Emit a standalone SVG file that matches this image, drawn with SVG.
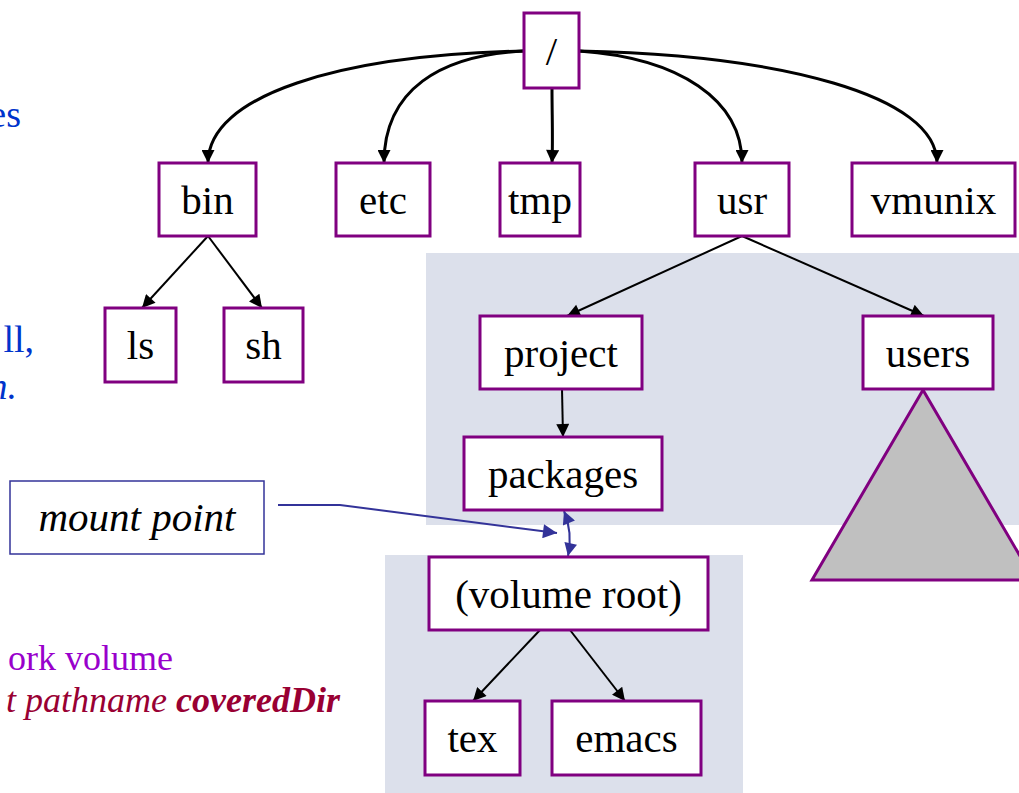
<svg xmlns="http://www.w3.org/2000/svg" width="1019" height="793" viewBox="0 0 1019 793">
<style>
.box{fill:#ffffff;stroke:#800080;stroke-width:3}
.lbl{font-family:'Liberation Serif','Times New Roman',serif;font-size:41px;fill:#000;text-anchor:middle}
.conn{fill:none;stroke:#000;stroke-width:2}
.curve{fill:none;stroke:#000;stroke-width:3}
.side{font-family:'Liberation Serif','Times New Roman',serif;font-size:38px}
.mnt{fill:none;stroke:#333399;stroke-width:2}
</style>
<defs>
<marker id="ah" viewBox="0 0 10 10" refX="10" refY="5" markerUnits="userSpaceOnUse" markerWidth="14" markerHeight="13" orient="auto"><path d="M0,0 L10,5 L0,10 z" fill="#000"/></marker>
<marker id="ahb" viewBox="0 0 10 10" refX="10" refY="5" markerUnits="userSpaceOnUse" markerWidth="16" markerHeight="14" orient="auto"><path d="M0,0 L10,5 L0,10 z" fill="#333399"/></marker>
<marker id="ahb2" viewBox="0 0 10 10" refX="10" refY="5" markerUnits="userSpaceOnUse" markerWidth="15" markerHeight="13" orient="auto-start-reverse"><path d="M0,0 L10,5 L0,10 z" fill="#333399"/></marker>
</defs>
<rect width="1019" height="793" fill="#ffffff"/>

<g id="sidetext" class="side">
<text x="21" y="127" fill="#0033cc" text-anchor="end">es</text>
<text x="34" y="352" fill="#0033cc" text-anchor="end">ll,</text>
<text x="17" y="399" fill="#0033cc" text-anchor="end" font-style="italic">n.</text>
<text x="173" y="670" fill="#9900cc" text-anchor="end" font-size="36">ork volume</text>
<text x="340" y="712" fill="#990033" text-anchor="end" font-size="36" font-style="italic">t pathname <tspan font-weight="bold">coveredDir</tspan></text>
</g>

<g id="volumes">
<rect x="426" y="253" width="593" height="272" fill="#dce0eb"/>
<rect x="385" y="555" width="358" height="238" fill="#dce0eb"/>
</g>

<g id="users-subtree">
<polygon points="923,390 812,580 1034,580" fill="#c0c0c0" stroke="#800080" stroke-width="3"/>
</g>

<g id="connectors">
<path class="curve" d="M524,51 C340,55 208,95 208,163" marker-end="url(#ah)"/>
<path class="curve" d="M524,51 C440,55 384,90 384,163" marker-end="url(#ah)"/>
<path class="curve" d="M552,88 C552,115 553,140 552,163" marker-end="url(#ah)"/>
<path class="curve" d="M579,51 C680,58 742,100 742,163" marker-end="url(#ah)"/>
<path class="curve" d="M579,51 C780,55 937,95 937,163" marker-end="url(#ah)"/>
<path class="conn" d="M208,236 L142,308" marker-end="url(#ah)"/>
<path class="conn" d="M208,236 L262,308" marker-end="url(#ah)"/>
<path class="conn" d="M742,236 L567,316" marker-end="url(#ah)"/>
<path class="conn" d="M742,236 L924,316" marker-end="url(#ah)"/>
<path class="conn" d="M562,389 L563,437" marker-end="url(#ah)"/>
<path class="conn" d="M540,630 L473,701" marker-end="url(#ah)"/>
<path class="conn" d="M570,630 L625,701" marker-end="url(#ah)"/>
<path class="mnt" d="M278,505 L340,505 L557,533" marker-end="url(#ahb)"/>
<path class="mnt" stroke-width="3" d="M564,511 Q573,533 568,556" marker-start="url(#ahb2)" marker-end="url(#ahb2)"/>
</g>

<g id="n-root"><rect class="box" x="524" y="13" width="55" height="75"/><text class="lbl" x="551.5" y="65">/</text></g>
<g id="n-bin"><rect class="box" x="159" y="163" width="97" height="73"/><text class="lbl" x="207.5" y="214">bin</text></g>
<g id="n-etc"><rect class="box" x="336" y="163" width="94" height="73"/><text class="lbl" x="383" y="214">etc</text></g>
<g id="n-tmp"><rect class="box" x="500" y="163" width="80" height="73"/><text class="lbl" x="540" y="214">tmp</text></g>
<g id="n-usr"><rect class="box" x="695" y="163" width="94" height="73"/><text class="lbl" x="742" y="214">usr</text></g>
<g id="n-vmunix"><rect class="box" x="852" y="163" width="163" height="73"/><text class="lbl" x="933.5" y="214">vmunix</text></g>
<g id="n-ls"><rect class="box" x="105" y="308" width="71" height="74"/><text class="lbl" x="140.5" y="359">ls</text></g>
<g id="n-sh"><rect class="box" x="224" y="308" width="79" height="74"/><text class="lbl" x="263.5" y="359">sh</text></g>
<g id="n-project"><rect class="box" x="480" y="316" width="162" height="73"/><text class="lbl" x="561" y="367">project</text></g>
<g id="n-users"><rect class="box" x="863" y="316" width="130" height="73"/><text class="lbl" x="928" y="367">users</text></g>
<g id="n-packages"><rect class="box" x="464" y="437" width="198" height="73"/><text class="lbl" x="563" y="488">packages</text></g>
<g id="n-volroot"><rect class="box" x="429" y="557" width="279" height="73"/><text class="lbl" x="568.5" y="608">(volume root)</text></g>
<g id="n-tex"><rect class="box" x="425" y="701" width="95" height="74"/><text class="lbl" x="472.5" y="752">tex</text></g>
<g id="n-emacs"><rect class="box" x="552" y="701" width="149" height="74"/><text class="lbl" x="626.5" y="752">emacs</text></g>
<g id="n-mount"><rect x="10" y="481" width="254" height="73" fill="#ffffff" stroke="#333399" stroke-width="1.5"/><text class="lbl" x="137" y="531" font-style="italic">mount point</text></g>
</svg>
